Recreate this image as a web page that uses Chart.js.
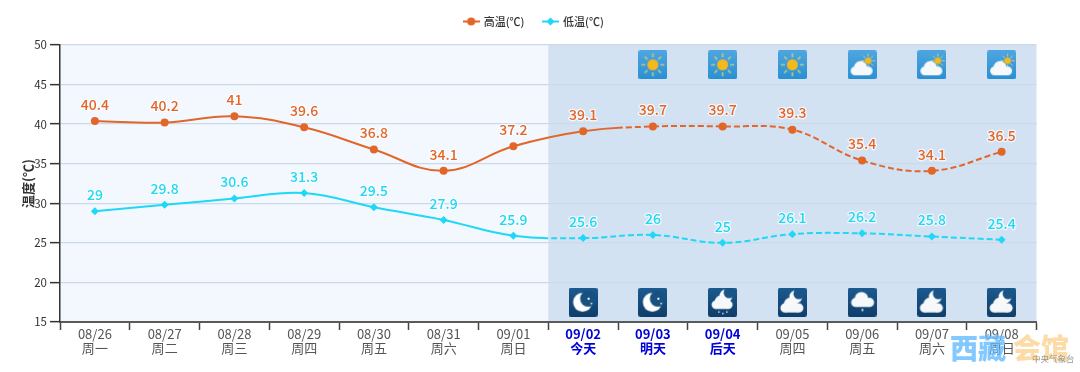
<!DOCTYPE html>
<html lang="en">
<head>
<meta charset="UTF-8">
<title>高温低温预报</title>
<script src="https://cdn.jsdelivr.net/npm/chart.js@4"></script>
<style>
    body { margin: 0; background: #fff; }
    canvas { display: block; }
</style>
</head>
<body>

<canvas id="myChart" width="1080" height="372"></canvas>

<script>

var dates = ["08/26", "08/27", "08/28", "08/29", "08/30", "08/31", "09/01", "09/02", "09/03", "09/04", "09/05", "09/06", "09/07", "09/08"];
var weekdays = ["周一", "周二", "周三", "周四", "周五", "周六", "周日", "今天", "明天", "后天", "周四", "周五", "周六", "周日"];
var highTemps = [40.4, 40.2, 41, 39.6, 36.8, 34.1, 37.2, 39.1, 39.7, 39.7, 39.3, 35.4, 34.1, 36.5];
var lowTemps = [29, 29.8, 30.6, 31.3, 29.5, 27.9, 25.9, 25.6, 26, 25, 26.1, 26.2, 25.8, 25.4];
var yTicks = [15, 20, 25, 30, 35, 40, 45, 50];

// weather icons, one row at the top and one at the bottom of the plot
var dayIcons = [null, null, null, null, null, null, null, null, "sun", "sun", "sun", "suncloud", "suncloud", "suncloud"];
var nightIcons = [null, null, null, null, null, null, null, "moon", "moon", "snow", "mooncloud", "drip", "mooncloud", "mooncloud"];
var dayIconLevel = 47.5;
var nightIconLevel = 17.5;

var highColor = "#e2662a";
var lowColor = "#1fd8f5";

function cloud(c, x, y, s) {
    c.fillStyle = "#f6f8fa";
    c.beginPath();
    c.arc(x - 6 * s, y + 1 * s, 4 * s, 0, Math.PI * 2);
    c.arc(x - 1 * s, y - 2 * s, 6 * s, 0, Math.PI * 2);
    c.fill();
    c.beginPath();
    c.arc(x + 6 * s, y + 1 * s, 4 * s, 0, Math.PI * 2);
    c.fill();
    c.fillRect(x - 6 * s, y, 12 * s, 5 * s);
}

function crescent(c, x, y, r, cutX, cutY, cutR, back) {
    c.fillStyle = "#fff";
    c.beginPath();
    c.arc(x, y, r, 0, Math.PI * 2);
    c.fill();
    c.fillStyle = back;
    c.beginPath();
    c.arc(cutX, cutY, cutR, 0, Math.PI * 2);
    c.fill();
}

function makeIcon(kind) {
    var cv = document.createElement("canvas");
    cv.width = 29;
    cv.height = 29;
    var c = cv.getContext("2d");
    var isDay = kind == "sun" || kind == "suncloud";
    var g = c.createLinearGradient(0, 0, 0, 29);
    g.addColorStop(0, isDay ? "#4ea6e0" : "#1c5a90");
    g.addColorStop(1, isDay ? "#2a90d2" : "#103e69");
    c.fillStyle = g;
    c.beginPath();
    c.roundRect(0, 0, 29, 29, 2);
    c.fill();

    if (kind == "sun") {
        c.strokeStyle = "#b5c98f";
        c.lineWidth = 1.6;
        for (var i = 0; i < 8; i++) {
            var a = i * Math.PI / 4;
            c.beginPath();
            c.moveTo(14.5 + Math.cos(a) * 7.5, 14.5 + Math.sin(a) * 7.5);
            c.lineTo(14.5 + Math.cos(a) * 11.5, 14.5 + Math.sin(a) * 11.5);
            c.stroke();
        }
        c.fillStyle = "#f6b91c";
        c.beginPath();
        c.arc(14.5, 14.5, 5.5, 0, Math.PI * 2);
        c.fill();
    }
    if (kind == "suncloud") {
        c.strokeStyle = "#c4d090";
        c.lineWidth = 1;
        for (var j = 0; j < 8; j++) {
            var b = j * Math.PI / 4;
            c.beginPath();
            c.moveTo(20.5 + Math.cos(b) * 4, 10.5 + Math.sin(b) * 4);
            c.lineTo(20.5 + Math.cos(b) * 7, 10.5 + Math.sin(b) * 7);
            c.stroke();
        }
        c.fillStyle = "#f6b91c";
        c.beginPath();
        c.arc(20.5, 10.5, 3.3, 0, Math.PI * 2);
        c.fill();
        cloud(c, 14, 19.5, 1.1);
    }
    if (kind == "moon") {
        crescent(c, 14, 14.5, 9.5, 19.5, 11, 8, "#18517f");
        c.fillStyle = "#fff";
        c.fillRect(19, 10, 2, 2);
        c.fillRect(22, 15, 1.5, 1.5);
    }
    if (kind == "mooncloud") {
        crescent(c, 18, 9, 6.5, 21, 6, 5.5, "#1a5587");
        cloud(c, 14, 19, 1.15);
    }
    if (kind == "snow") {
        crescent(c, 18, 8, 6.5, 21, 5, 5.5, "#1a5587");
        cloud(c, 14, 16, 1.05);
        c.fillStyle = "#d8e4ee";
        c.fillRect(10, 23.5, 1.5, 1.5);
        c.fillRect(14, 25, 1.5, 1.5);
        c.fillRect(18, 23.5, 1.5, 1.5);
    }
    if (kind == "drip") {
        cloud(c, 15, 13.5, 1.15);
        c.fillStyle = "#e8eef4";
        c.fillRect(14, 21, 1.5, 2.5);
    }
    return cv;
}

function legendMark(color, diamond) {
    var cv = document.createElement("canvas");
    cv.width = 17;
    cv.height = 9;
    var c = cv.getContext("2d");
    c.strokeStyle = color;
    c.lineWidth = 2;
    c.beginPath();
    c.moveTo(0, 4.5);
    c.lineTo(17, 4.5);
    c.stroke();
    c.fillStyle = color;
    c.beginPath();
    if (diamond) {
        c.moveTo(8.5, 0.5);
        c.lineTo(12.5, 4.5);
        c.lineTo(8.5, 8.5);
        c.lineTo(4.5, 4.5);
        c.closePath();
    } else {
        c.arc(8.5, 4.5, 4, 0, Math.PI * 2);
    }
    c.fill();
    return cv;
}

var legendMarks = [legendMark(highColor, false), legendMark(lowColor, true)];

// dash pattern, the first long dash keeps the start of the segment solid
function dashFor(index, lastSolid, solidPart) {
    if (index == lastSolid) {
        return [solidPart, 3, 6, 3, 6, 3, 6, 3, 6, 3, 6, 3];
    }
    if (index > lastSolid) {
        return [6, 3];
    }
    return undefined;
}

// more room under the legend so the plot starts lower
var legendGapPlugin = {
    id: "legendGap",
    beforeLayout: function (chart) {
        if (chart.legend.gapAdded) {
            return;
        }
        var fit = chart.legend.fit;
        chart.legend.fit = function () {
            fit.call(this);
            this.height += 8;
        };
        chart.legend.gapAdded = true;
    }
};

var shadePlugin = {
    id: "shade",
    beforeDraw: function (chart) {
        var a = chart.chartArea;
        var c = chart.ctx;
        var split = chart.scales.x.getPixelForValue(6.5);
        c.save();
        c.fillStyle = "#f2f8fe";
        c.fillRect(a.left, a.top, split - a.left, a.bottom - a.top);
        c.fillStyle = "#d2e2f3";
        c.fillRect(split, a.top, a.right - split, a.bottom - a.top);
        c.restore();
    }
};

var labelPlugin = {
    id: "valueLabels",
    afterDatasetsDraw: function (chart) {
        var c = chart.ctx;
        c.save();
        c.font = "500 14px 'Noto Sans CJK SC'";
        c.textAlign = "center";
        c.textBaseline = "middle";
        c.lineJoin = "round";
        [highTemps, lowTemps].forEach(function (values, d) {
            var pts = chart.getDatasetMeta(d).data;
            values.forEach(function (v, i) {
                var y = pts[i].y - 16.5;
                c.lineWidth = 2.5;
                c.strokeStyle = "rgba(255,255,255,0.75)";
                c.strokeText(v, pts[i].x, y);
                c.fillStyle = d == 0 ? highColor : lowColor;
                c.fillText(v, pts[i].x, y);
            });
        });
        c.restore();
    }
};

var watermarkPlugin = {
    id: "watermark",
    afterDraw: function (chart) {
        var c = chart.ctx;
        c.save();
        c.font = "900 28px 'Noto Sans CJK SC'";
        c.textBaseline = "middle";
        c.textAlign = "left";
        c.fillStyle = "rgba(100,188,255,0.8)";
        c.fillText("西藏", 950, 348);
        c.fillStyle = "rgba(253,210,145,0.8)";
        c.fillText("会馆", 1013, 348);
        c.font = "8.5px 'Noto Sans CJK SC'";
        c.fillStyle = "rgba(120,120,120,0.75)";
        c.fillText("中央气象台", 1032, 359);
        c.restore();
    }
};

var ctx = document.getElementById("myChart");

var chart = new Chart(ctx, {
    type: "line",
    plugins: [legendGapPlugin, shadePlugin, labelPlugin, watermarkPlugin],
    data: {
        labels: dates.map(function (d, i) { return [d, weekdays[i]]; }),
        datasets: [{
            label: "高温(℃)",
            data: highTemps,
            borderColor: highColor,
            backgroundColor: highColor,
            borderWidth: 2,
            pointStyle: "circle",
            pointRadius: 4,
            pointBorderWidth: 0,
            tension: 0.4,
            segment: {
                borderDash: function (s) { return dashFor(s.p0DataIndex, 7, 40); }
            }
        }, {
            label: "低温(℃)",
            data: lowTemps,
            borderColor: lowColor,
            backgroundColor: lowColor,
            borderWidth: 2,
            pointStyle: "rectRot",
            pointRadius: 4,
            pointBorderWidth: 0,
            tension: 0.4,
            segment: {
                borderDash: function (s) { return dashFor(s.p0DataIndex, 6, 35); }
            }
        }, {
            label: "day",
            data: dayIcons.map(function (k) { return k ? dayIconLevel : null; }),
            showLine: false,
            pointRadius: 15,
            pointStyle: dayIcons.map(function (k) { return k ? makeIcon(k) : "circle"; })
        }, {
            label: "night",
            data: nightIcons.map(function (k) { return k ? nightIconLevel : null; }),
            showLine: false,
            pointRadius: 15,
            pointStyle: nightIcons.map(function (k) { return k ? makeIcon(k) : "circle"; })
        }]
    },
    options: {
        responsive: false,
        animation: false,
        layout: { padding: { top: -3, left: 31.5, right: 43.5, bottom: 0 } },
        plugins: {
            tooltip: { enabled: false },
            legend: {
                position: "top",
                labels: {
                    usePointStyle: true,
                    pointStyleWidth: 14,
                    padding: 19,
                    color: "#333",
                    font: { size: 11, weight: "500", family: "'Noto Sans CJK SC'" },
                    filter: function (item) { return item.datasetIndex < 2; },
                    generateLabels: function (c) {
                        var items = Chart.defaults.plugins.legend.labels.generateLabels(c);
                        items.forEach(function (item) {
                            if (item.datasetIndex < 2) {
                                item.pointStyle = legendMarks[item.datasetIndex];
                            }
                        });
                        return items;
                    }
                }
            }
        },
        scales: {
            x: {
                offset: true,
                afterFit: function (s) { s.height = 50; },
                border: { color: "#5a5a5a", width: 2 },
                grid: {
                    offset: true,
                    drawOnChartArea: false,
                    tickLength: 8,
                    tickColor: "#444",
                    tickWidth: 1.5
                },
                ticks: {
                    autoSkip: false,
                    maxRotation: 0,
                    padding: -3,
                    color: function (s) { return s.index >= 7 && s.index <= 9 ? "#0000d8" : "#555"; },
                    font: function (s) {
                        return {
                            size: 13,
                            lineHeight: 1.08,
                            weight: s.index >= 7 && s.index <= 9 ? "bold" : "normal",
                            family: "'Noto Sans CJK SC'"
                        };
                    }
                }
            },
            y: {
                min: 15,
                max: 50,
                afterFit: function (s) { s.width = 28.5; },
                afterBuildTicks: function (s) {
                    s.ticks = yTicks.map(function (v) { return { value: v }; });
                },
                border: { color: "#333", width: 1.5 },
                grid: {
                    color: "#cbd9e9",
                    lineWidth: 1.3,
                    tickColor: "#333",
                    tickWidth: 1.5,
                    tickLength: 10
                },
                ticks: {
                    padding: 3,
                    color: "#333",
                    font: { size: 11.5, family: "'Noto Sans CJK SC'" }
                },
                title: {
                    display: true,
                    text: "温度(℃)",
                    color: "#333",
                    padding: { top: -11.7, bottom: 0 },
                    font: { size: 13, weight: "bold", family: "'Noto Sans CJK SC'" }
                }
            }
        }
    }
});

</script>

</body>
</html>
